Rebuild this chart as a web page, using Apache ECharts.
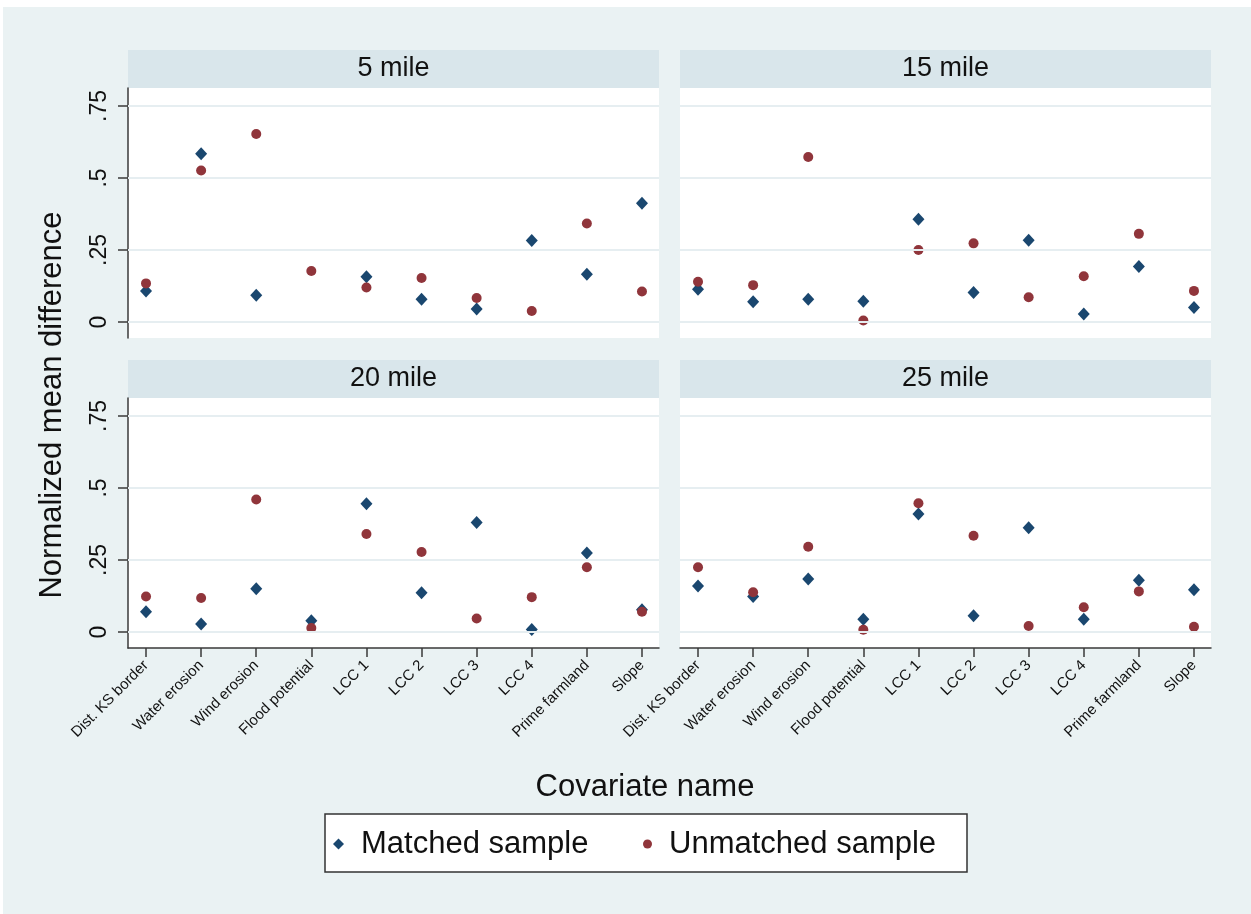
<!DOCTYPE html>
<html>
<head>
<meta charset="utf-8">
<script src="https://cdn.jsdelivr.net/npm/echarts@6/dist/echarts.min.js"></script>
<style>
  html, body { margin: 0; padding: 0; background: #ffffff; }
  #bg { position: absolute; left: 3px; top: 7px; width: 1248px; height: 907px; background: #eaf2f3; }
  #chart { position: absolute; left: 0; top: 0; width: 1251px; height: 914px; }
</style>
</head>
<body>
<div id="bg"></div>
<div id="chart"></div>
<script>
// ---- Data ----
const categories = ['Dist. KS border', 'Water erosion', 'Wind erosion', 'Flood potential', 'LCC 1', 'LCC 2', 'LCC 3', 'LCC 4', 'Prime farmland', 'Slope'];
const panelTitles = ['5 mile', '15 mile', '20 mile', '25 mile'];
const matched5    = [0.108, 0.584, 0.093, null,  0.157, 0.079, 0.045, 0.283, 0.166, 0.412];
const unmatched5  = [0.134, 0.526, 0.653, 0.177, 0.120, 0.153, 0.083, 0.038, 0.342, 0.106];
const matched15   = [0.114, 0.070, 0.079, 0.072, 0.357, 0.102, 0.284, 0.028, 0.193, 0.050];
const unmatched15 = [0.140, 0.128, 0.573, 0.005, 0.250, 0.273, 0.086, 0.159, 0.306, 0.108];
const matched20   = [0.070, 0.028, 0.150, 0.039, 0.445, 0.136, 0.380, 0.009, 0.274, 0.077];
const unmatched20 = [0.123, 0.118, 0.460, 0.014, 0.340, 0.278, 0.047, 0.121, 0.225, 0.070];
const matched25   = [0.160, 0.123, 0.184, 0.044, 0.410, 0.056, 0.362, 0.044, 0.180, 0.147];
const unmatched25 = [0.225, 0.138, 0.296, 0.008, 0.447, 0.334, 0.021, 0.086, 0.141, 0.018];
const yTickValues = [0, 0.25, 0.5, 0.75];
const yTickLabels = ['0', '.25', '.5', '.75'];
const seriesNames = ['Matched sample', 'Unmatched sample'];

// ---- Styling / layout ----
const FONT = "'Liberation Sans', Arial, sans-serif";
const NAVY = '#1a476f';
const MAROON = '#90353b';
const HEADER = '#d9e6eb';
const GRIDLINE = '#e6eef1';
const AXIS = '#3a3a3a';
const PW = 531, PH = 250;
const panelPos = [[128, 88], [680, 88], [128, 398], [680, 398]];
const panelMatched = [matched5, matched15, matched20, matched25];
const panelUnmatched = [unmatched5, unmatched15, unmatched20, unmatched25];
const xTickValues = categories.map((c, i) => i + 1);

const grids = [], xAxes = [], yAxes = [], series = [], graphics = [];

panelPos.forEach((p, k) => {
  const isLeft = (k % 2 === 0);
  const isBottom = (k >= 2);
  grids.push({
    left: p[0], top: p[1], width: PW, height: PH,
    show: true, backgroundColor: '#ffffff', borderWidth: 0
  });
  xAxes.push({
    type: 'value', gridIndex: k, min: 0.673, max: 10.309,
    show: isBottom, position: 'bottom',
    axisLine: { show: true, onZero: false, lineStyle: { color: AXIS, width: 1.5 } },
    axisTick: { show: true, inside: false, length: 9, customValues: xTickValues, lineStyle: { color: AXIS, width: 1.5 } },
    splitLine: { show: false },
    axisLabel: {
      show: true, customValues: xTickValues, rotate: 45, margin: 15,
      fontFamily: FONT, fontSize: 15, color: '#111',
      formatter: v => categories[Math.round(v) - 1] || ''
    }
  });
  yAxes.push({
    type: 'value', gridIndex: k, min: -0.0556, max: 0.8125,
    show: isLeft, position: 'left',
    axisLine: { show: true, onZero: false, lineStyle: { color: AXIS, width: 1.5 } },
    axisTick: { show: true, inside: false, length: 10, customValues: yTickValues, lineStyle: { color: AXIS, width: 1.5 } },
    splitLine: { show: false },
    axisLabel: {
      show: true, customValues: yTickValues, rotate: 90, margin: 17,
      fontFamily: FONT, fontSize: 23, color: '#111',
      formatter: v => { const i = yTickValues.findIndex(t => Math.abs(t - v) < 1e-6); return i >= 0 ? yTickLabels[i] : ''; }
    }
  });
  // gridlines through the y scale
  series.push({
    type: 'scatter', name: 'grid' + k, xAxisIndex: k, yAxisIndex: k, data: [], z: 1, silent: true,
    markLine: {
      silent: true, symbol: 'none', animation: false, label: { show: false },
      lineStyle: { color: GRIDLINE, width: 2, type: 'solid' },
      emphasis: { disabled: true },
      data: yTickValues.map(v => ({ yAxis: v }))
    }
  });
  series.push({
    type: 'scatter', name: seriesNames[0], xAxisIndex: k, yAxisIndex: k, z: 3,
    symbol: 'diamond', symbolSize: [12, 13],
    itemStyle: { color: NAVY, opacity: 1 },
    data: panelMatched[k].map((v, i) => [i + 1, v]).filter(d => d[1] !== null)
  });
  series.push({
    type: 'scatter', name: seriesNames[1], xAxisIndex: k, yAxisIndex: k, z: 4,
    symbol: 'circle', symbolSize: 10,
    itemStyle: { color: MAROON, opacity: 1 },
    data: panelUnmatched[k].map((v, i) => [i + 1, v]).filter(d => d[1] !== null)
  });
  // panel header
  graphics.push({
    type: 'rect', z: 0, silent: true,
    shape: { x: p[0], y: p[1] - 38, width: PW, height: 38 },
    style: { fill: HEADER }
  });
  graphics.push({
    type: 'text', z: 1, silent: true,
    x: p[0] + PW / 2, y: p[1] - 19,
    style: { text: panelTitles[k], font: '27px ' + FONT, fill: '#111', align: 'center', verticalAlign: 'middle', textAlign: 'center', textVerticalAlign: 'middle' }
  });
});

// axis titles
graphics.push({
  type: 'text', silent: true, x: 52, y: 405, rotation: Math.PI / 2,
  style: { text: 'Normalized mean difference', font: '31px ' + FONT, fill: '#111', align: 'center', verticalAlign: 'middle', textAlign: 'center', textVerticalAlign: 'middle' }
});
graphics.push({
  type: 'text', silent: true, x: 645, y: 787,
  style: { text: 'Covariate name', font: '31px ' + FONT, fill: '#111', align: 'center', verticalAlign: 'middle', textAlign: 'center', textVerticalAlign: 'middle' }
});
// legend box
graphics.push({
  type: 'rect', silent: true, z: 0,
  shape: { x: 325, y: 814, width: 642, height: 58 },
  style: { fill: '#ffffff', stroke: '#333333', lineWidth: 1.5 }
});

const legendCommon = {
  top: 828, padding: 0, itemWidth: 11, itemHeight: 11, selectedMode: false,
  textStyle: { fontFamily: FONT, fontSize: 31, color: '#111', lineHeight: 32, padding: [0, 0, 0, 12] }
};

const chart = echarts.init(document.getElementById('chart'), null, { renderer: 'canvas' });
chart.setOption({
  backgroundColor: 'transparent',
  animation: false,
  grid: grids,
  xAxis: xAxes,
  yAxis: yAxes,
  legend: [
    Object.assign({}, legendCommon, { left: 333, data: [{ name: seriesNames[0], icon: 'diamond', itemStyle: { color: NAVY, opacity: 1 } }] }),
    Object.assign({}, legendCommon, { left: 643, itemWidth: 9, itemHeight: 9, data: [{ name: seriesNames[1], icon: 'circle', itemStyle: { color: MAROON, opacity: 1 } }] })
  ],
  graphic: graphics,
  series: series
});
</script>
</body>
</html>
